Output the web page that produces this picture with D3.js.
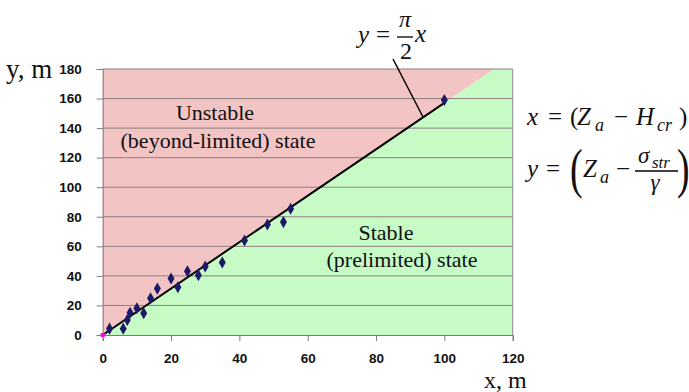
<!DOCTYPE html>
<html>
<head>
<meta charset="utf-8">
<script src="https://cdn.jsdelivr.net/npm/d3@7"></script>
<style>
  body { margin: 0; background: #fff; }
  svg { display: block; }
</style>
</head>
<body>
<svg id="chart" width="689" height="392"></svg>
<script>
// ── Data ──
const pointsX = [2, 6, 7.2, 8, 10, 12, 14, 16, 20, 22, 24.8, 28, 30, 35, 41.5, 48.2, 52.9, 55, 100];
const pointsY = [4.3, 4.3, 10.2, 15.1, 18.1, 14.7, 24.9, 31.4, 38.2, 32.3, 43.2, 40.5, 46.3, 49, 63.9, 74.8, 76.4, 85.4, 159];
const xTicks = [0, 20, 40, 60, 80, 100, 120];
const yTicks = [0, 20, 40, 60, 80, 100, 120, 140, 160, 180];
const slope = Math.PI / 2;
const lineEnd = 100;

const SERIF = '"Liberation Serif", "Times New Roman", serif';
const svg = d3.select('#chart');
const x = d3.scaleLinear().domain([0, 120]).range([102.7, 512.7]);
const y = d3.scaleLinear().domain([0, 180]).range([335, 69]);

// ── Regions ──
const xTop = 180 / slope;
const toPts = arr => arr.map(p => [x(p[0]), y(p[1])].join(',')).join(' ');
svg.append('polygon')
  .attr('points', toPts([[0, 0], [0, 180], [xTop, 180]]))
  .attr('fill', '#f3c4c4');
svg.append('polygon')
  .attr('points', toPts([[0, 0], [xTop, 180], [120, 180], [120, 0]]))
  .attr('fill', '#c6fbc6');

// ── Grid lines ──
svg.append('g').selectAll('line').data(yTicks.filter(d => d > 0)).join('line')
  .attr('x1', x(0)).attr('x2', x(120))
  .attr('y1', d => y(d)).attr('y2', d => y(d))
  .attr('stroke', '#8c7f80').attr('stroke-width', 1);

// right border
svg.append('line')
  .attr('x1', x(120)).attr('x2', x(120)).attr('y1', y(180)).attr('y2', y(0))
  .attr('stroke', '#8c8c8c').attr('stroke-width', 1);

// ── Axes ──
const yAxis = svg.append('g')
  .attr('transform', 'translate(' + x(0) + ',0)')
  .call(d3.axisLeft(y).tickValues(yTicks).tickSize(6).tickPadding(15));
const xAxis = svg.append('g')
  .attr('transform', 'translate(0,' + y(0) + ')')
  .call(d3.axisBottom(x).tickValues(xTicks).tickSize(6).tickPadding(12));
[xAxis, yAxis].forEach(a => {
  a.attr('font-family', '"Liberation Sans", Arial, sans-serif')
    .attr('font-size', 13.5).attr('font-weight', 'bold');
  a.select('.domain').attr('stroke', '#7a7a7a');
  a.selectAll('.tick line').attr('stroke', '#7a7a7a');
  a.selectAll('.tick text').attr('fill', '#111');
});

// ── Boundary line ──
svg.append('line')
  .attr('x1', x(0)).attr('y1', y(0))
  .attr('x2', x(lineEnd)).attr('y2', y(lineEnd * slope))
  .attr('stroke', '#000').attr('stroke-width', 2);

// ── Points ──
const diamond = d3.symbol().type(d3.symbolDiamond).size(42);
svg.append('g').selectAll('path').data(pointsX.map((d, i) => [d, pointsY[i]])).join('path')
  .attr('d', diamond)
  .attr('transform', d => 'translate(' + x(d[0]) + ',' + y(d[1]) + ')')
  .attr('fill', '#1c1a66');

svg.append('rect')
  .attr('x', x(0) - 2).attr('y', y(0) - 2).attr('width', 4).attr('height', 4)
  .attr('fill', '#ff00ff');

// ── Text helper ──
function txt(px, py, s, size, opts) {
  opts = opts || {};
  return svg.append('text')
    .attr('x', px).attr('y', py)
    .attr('font-family', SERIF).attr('font-size', size)
    .attr('font-style', opts.italic ? 'italic' : null)
    .attr('text-anchor', opts.anchor || 'start')
    .attr('fill', '#111')
    .text(s);
}
// tall bracket, squeezed horizontally
function paren(px, py, s) {
  return svg.append('text')
    .attr('transform', 'translate(' + px + ',' + py + ') scale(0.7,1)')
    .attr('font-family', SERIF).attr('font-size', 54)
    .attr('font-weight', 300).attr('fill', '#111')
    .text(s);
}

// ── Axis titles ──
txt(6, 78, 'y, m', 27);
txt(484, 388, 'x, m', 24);

// ── Region labels ──
txt(215, 120, 'Unstable', 22, { anchor: 'middle' });
txt(218, 148, '(beyond-limited) state', 22, { anchor: 'middle' });
txt(386, 240, 'Stable', 22, { anchor: 'middle' });
txt(402, 267, '(prelimited) state', 22, { anchor: 'middle' });

// ── Annotation y = π/2 x ──
svg.append('line')
  .attr('x1', 393).attr('y1', 59).attr('x2', 423).attr('y2', 117)
  .attr('stroke', '#000').attr('stroke-width', 1.5);
txt(358, 43, 'y', 25, { italic: true });
txt(376, 43, '=', 25);
txt(405, 27, 'π', 24, { italic: true, anchor: 'middle' });
svg.append('line').attr('x1', 397).attr('x2', 413).attr('y1', 37).attr('y2', 37)
  .attr('stroke', '#000').attr('stroke-width', 1.3);
txt(406, 59, '2', 24, { anchor: 'middle' });
txt(415, 42, 'x', 25, { italic: true });

// ── Definitions ──
// x = (Z_a − H_cr)
txt(527, 125, 'x', 25, { italic: true });
txt(548, 125, '=', 25);
txt(570, 125, '(', 25);
txt(577, 125, 'Z', 25, { italic: true });
txt(595, 131, 'a', 18, { italic: true });
txt(614, 125, '−', 25);
txt(636, 125, 'H', 25, { italic: true });
txt(657, 131, 'cr', 18, { italic: true });
txt(679, 125, ')', 25);

// y = (Z_a − σ_str / γ)
txt(527, 177, 'y', 25, { italic: true });
txt(546, 177, '=', 25);
paren(570, 187, '(');
txt(583, 177, 'Z', 25, { italic: true });
txt(600, 183, 'a', 18, { italic: true });
txt(616, 177, '−', 25);
txt(638, 163, 'σ', 23, { italic: true });
txt(652, 168, 'str', 17, { italic: true });
svg.append('line').attr('x1', 635).attr('x2', 678).attr('y1', 171).attr('y2', 171)
  .attr('stroke', '#000').attr('stroke-width', 1.3);
txt(655, 190, 'γ', 23, { italic: true, anchor: 'middle' });
paren(677, 187, ')');
</script>
</body>
</html>
